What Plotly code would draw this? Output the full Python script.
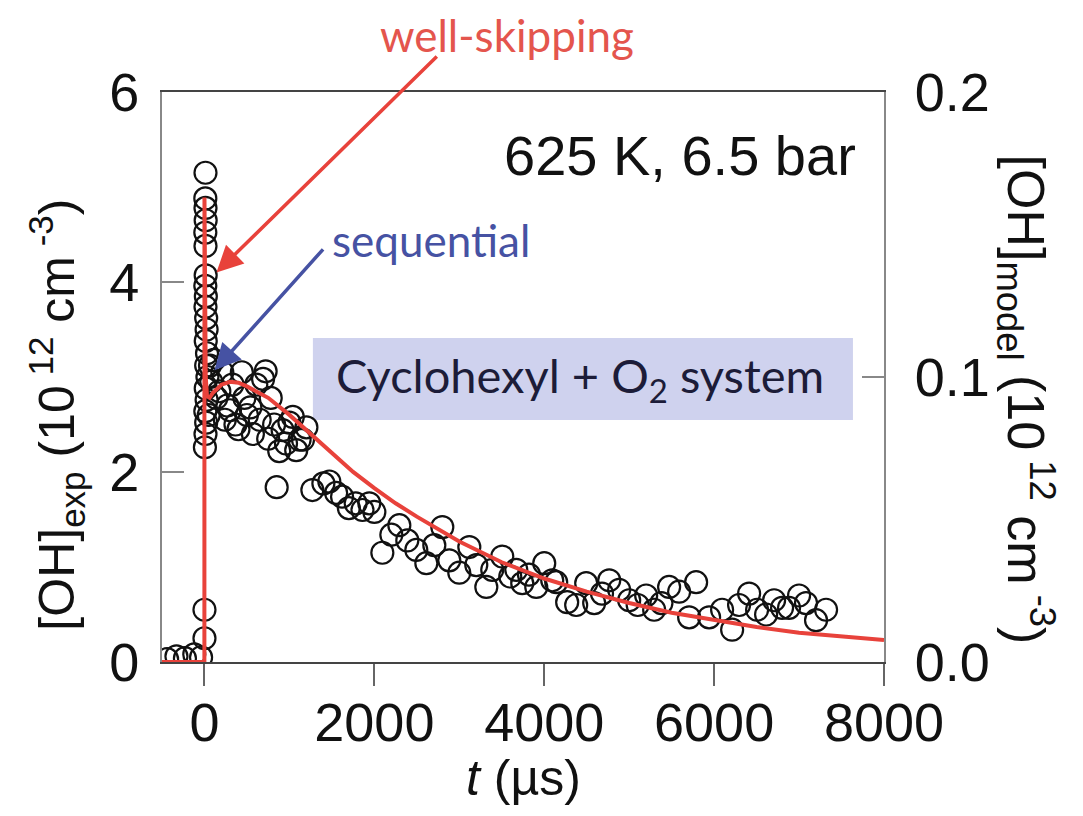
import plotly.graph_objects as go

# ---- experimental [OH] (10^12 cm^-3), left axis ----
t_exp = [-440, -330, -230, -120, -40, 0, 0,
         5, 12, 10, 12, 14, 10, 12, 14, 10, 16, 12, 20, 25, 15, 30, 20, 35, 15, 25, 10, 20, 12,
         50, 65, 80, 110, 140, 175, 210, 240, 270, 300, 330, 365, 400, 440, 470, 500, 540, 570,
         610, 650, 690, 720, 750, 780, 820, 850, 880, 920, 960, 1000, 1040, 1080, 1120, 1160, 1200,
         1270, 1400, 1470, 1550, 1620, 1700, 1780, 1860, 1940, 2000,
         2094, 2200, 2294, 2388, 2494, 2612, 2706, 2800, 2882, 3000, 3118, 3200, 3318, 3388, 3506,
         3600, 3671, 3741, 3820, 3906, 4000, 4094,
         4141, 4270, 4376, 4494, 4588, 4680, 4765, 4882, 5000, 5100, 5200, 5294, 5380, 5470, 5588,
         5706, 5788,
         5941, 6094, 6212, 6294, 6412, 6506, 6612, 6706, 6800, 6882, 7000, 7082, 7200, 7318]
oh_exp = [0.03, 0.06, 0.04, 0.08, 0.05, 0.25, 0.55,
          2.26, 5.15, 4.88, 4.78, 4.65, 4.52, 4.38, 4.07, 3.96, 3.85, 3.74, 3.62, 3.5, 3.38, 3.25,
          3.12, 3.0, 2.88, 2.76, 2.64, 2.52, 2.4,
          2.6, 3.12, 2.95, 3.18, 2.78, 2.85, 3.05, 2.55, 2.7, 2.65, 2.92, 2.5, 2.45, 3.05, 2.78, 2.6,
          2.68, 2.4, 2.92, 2.55, 2.98, 3.06, 2.35, 2.78, 2.5, 1.84, 2.22, 2.44, 2.3, 2.52, 2.58,
          2.23, 2.34, 2.34, 2.47,
          1.81, 1.88, 1.9, 1.78, 1.74, 1.62, 1.67, 1.6, 1.67, 1.58,
          1.15, 1.34, 1.44, 1.28, 1.18, 1.04, 1.23, 1.42, 1.07, 0.94, 1.21, 1.02, 0.79, 0.97, 1.11,
          0.9, 0.97, 0.83, 0.92, 0.79, 1.04, 0.86,
          0.84, 0.63, 0.6, 0.83, 0.62, 0.72, 0.86, 0.76, 0.65, 0.6, 0.7, 0.55, 0.62, 0.79, 0.74,
          0.47, 0.84,
          0.47, 0.55, 0.34, 0.6, 0.72, 0.55, 0.5, 0.65, 0.57, 0.57, 0.7, 0.62, 0.44, 0.55]

# ---- model [OH] (10^12 cm^-3), right axis ----
t_model = [-500, -1, 0, 5, 15, 30, 60, 100, 200, 300, 400, 500, 750, 1000, 1250, 1500, 1750,
           2000, 2250, 2500, 2750, 3000, 3500, 4000, 4500, 5000, 5500, 6000, 6500, 7000, 7500, 8000]
oh_model = [0.0, 0.0, 0.163, 0.12, 0.1, 0.0933, 0.0927, 0.0945, 0.0973, 0.0983, 0.098, 0.0967,
            0.0927, 0.0867, 0.08, 0.0733, 0.0667, 0.061, 0.0557, 0.051, 0.0467, 0.0423, 0.035,
            0.0293, 0.0247, 0.0207, 0.0173, 0.0147, 0.0123, 0.0103, 0.009, 0.0077]

x_ticks = [0, 2000, 4000, 6000, 8000]
y_ticks = [0, 2, 4, 6]
y2_ticks = [0.0, 0.1, 0.2]

RED = '#e8423b'
BLUE = '#4652a3'
SANS = 'Liberation Sans, Arial'

fig = go.Figure()
fig.add_trace(go.Scatter(
    x=t_exp, y=oh_exp, mode='markers', yaxis='y',
    marker=dict(symbol='circle-open', size=22, color='#111111', line=dict(width=2.2)),
    hoverinfo='skip'))
fig.add_trace(go.Scatter(
    x=t_model, y=oh_model, mode='lines', yaxis='y2',
    line=dict(color=RED, width=4), hoverinfo='skip'))

axis_font = dict(family=SANS, size=54, color='#111111')

fig.update_layout(
    width=1083, height=816,
    margin=dict(l=162, r=199, t=92, b=154),
    paper_bgcolor='white', plot_bgcolor='white', showlegend=False,
    font=axis_font,
    xaxis=dict(range=[-500, 8000], tickvals=x_ticks, ticks='outside', ticklen=22, tickwidth=2,
               tickcolor='#666666', showline=True, linecolor='#444444', linewidth=2, mirror=True,
               showgrid=False, zeroline=False, tickfont=axis_font, ticklabelstandoff=-10),
    yaxis=dict(range=[0, 6], tickvals=y_ticks, ticks='inside', ticklen=22, tickwidth=2,
               tickcolor='#888888', showline=True, linecolor='#888888', linewidth=2,
               showgrid=False, zeroline=False, tickfont=axis_font, ticklabelstandoff=10),
    yaxis2=dict(range=[0, 0.2], overlaying='y', side='right', tickvals=y2_ticks, tickformat='.1f',
                ticks='inside', ticklen=22, tickwidth=2, tickcolor='#888888', showline=True,
                linecolor='#888888', linewidth=2, showgrid=False, zeroline=False,
                tickfont=axis_font, ticklabelstandoff=18),
)

# box behind the system label
fig.add_shape(type='rect', xref='paper', yref='paper', x0=0.209, x1=0.957, y0=0.4246, y1=0.5684,
              fillcolor='#cfd2ee', line=dict(width=0), layer='below')

NB = '&nbsp;'
annotations = [
    dict(text='Cyclohexyl + O<sub>2</sub> system', xref='paper', yref='paper', x=0.579, y=0.498,
         xanchor='center', yanchor='middle', showarrow=False,
         font=dict(family='Lato', size=47, color='#1c1c38')),
    dict(text='625 K, 6.5 bar', xref='paper', yref='paper', x=0.964, y=0.889, xanchor='right',
         yanchor='middle', showarrow=False, font=dict(family=SANS, size=56, color='#111111')),
    dict(text='well-skipping', xref='paper', yref='paper', x=0.478, y=1.1,
         xanchor='center', yanchor='middle', showarrow=False,
         font=dict(family='Lato', size=44, color='#e4554d')),
    dict(text='sequential', xref='paper', yref='paper', x=0.3726, y=0.74,
         xanchor='center', yanchor='middle', showarrow=False,
         font=dict(family='Lato', size=44, color=BLUE)),
    # arrows
    dict(text='', x=141, y=4.1, xref='x', yref='y', ax=2753, ay=6.39, axref='x', ayref='y',
         showarrow=True, arrowhead=2, arrowsize=1.5, arrowwidth=3.5, arrowcolor=RED),
    dict(text='', x=118, y=3.07, xref='x', yref='y', ax=1412, ay=4.36, axref='x', ayref='y',
         showarrow=True, arrowhead=2, arrowsize=1.5, arrowwidth=3.5, arrowcolor=BLUE),
    # axis titles
    dict(text='[OH]<sub>exp</sub>' + NB + '(10<sup>' + NB + '12</sup>' + NB + 'cm<sup>' + NB
         + '-3</sup>)',
         xref='paper', yref='paper', x=-0.1454, y=0.434, xanchor='center', yanchor='middle',
         textangle=-90, showarrow=False, font=dict(family=SANS, size=50, color='#111111')),
    dict(text='[OH]<sub>model</sub>' + NB + '(10<sup>' + NB + '12</sup>' + NB + 'cm<sup>' + NB
         + '-3</sup>)',
         xref='paper', yref='paper', x=1.197, y=0.46, xanchor='center', yanchor='middle',
         textangle=90, showarrow=False, font=dict(family=SANS, size=52, color='#111111')),
    dict(text='<i>t</i> (µs)', xref='paper', yref='paper', x=0.5, y=-0.2035,
         xanchor='center', yanchor='middle', showarrow=False,
         font=dict(family=SANS, size=50, color='#111111')),
]
fig.update_layout(annotations=annotations)

fig.write_html('out.html')
